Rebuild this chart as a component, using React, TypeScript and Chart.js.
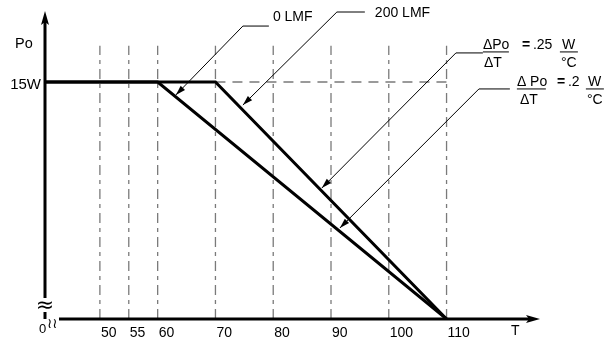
import React, { useEffect, useRef } from "react";
import { Chart, registerables } from "chart.js";

Chart.register(...registerables);

// ---- data ----
const tempTicks = [50, 55, 60, 70, 80, 90, 100, 110];
const lmf0Temp = [40.5, 60, 110];
const lmf0Power = [15, 15, 0];
const lmf200Temp = [40.5, 70, 110];
const lmf200Power = [15, 15, 0];
const ratedPowerW = 15;
const ratedDashTemp = [70, 110];
const gridTopPower = 17.3;

const X_MIN = 40.5;
const X_MAX = 126;
const Y_MIN = 0;
const Y_MAX = 19.43;

// leader lines (data coordinates): [text end, elbow, arrow tip]
const leader0 = [[79.25, 18.54], [74.75, 18.54], [63.15, 14.18]];
const leader200 = [[95.86, 19.43], [91.02, 19.43], [74.75, 13.54]];
const leader25 = [[116.29, 16.84], [111.62, 16.84], [88.42, 8.29]];
const leader20 = [[120.96, 14.56], [115.6, 14.56], [91.54, 5.76]];

const FONT = '"Liberation Sans", Arial, Helvetica, sans-serif';

const zip = (xs: number[], ys: number[]) => xs.map((x, i) => ({ x, y: ys[i] }));

const overlay = {
  id: "overlay",
  afterDraw(chart: any) {
    const ctx: CanvasRenderingContext2D = chart.ctx;
    const xs = chart.scales.x;
    const ys = chart.scales.y;
    const px = (v: number) => xs.getPixelForValue(v);
    const py = (v: number) => ys.getPixelForValue(v);
    const x0 = px(X_MIN);
    const y0 = py(0);
    ctx.save();
    ctx.fillStyle = "#000";
    ctx.strokeStyle = "#000";
    ctx.lineCap = "butt";

    // y axis
    const yTop = py(Y_MAX) - 1;
    ctx.lineWidth = 3;
    ctx.beginPath();
    ctx.moveTo(x0, yTop + 10);
    ctx.lineTo(x0, y0 - 21);
    ctx.stroke();
    ctx.beginPath();
    ctx.moveTo(x0, yTop);
    ctx.lineTo(x0 - 4, yTop + 14);
    ctx.lineTo(x0, yTop + 11);
    ctx.lineTo(x0 + 4, yTop + 14);
    ctx.closePath();
    ctx.fill();
    // short segment after break
    ctx.beginPath();
    ctx.moveTo(x0, y0 - 7);
    ctx.lineTo(x0, y0);
    ctx.stroke();

    // x axis
    const xEnd = px(X_MAX) + 1;
    ctx.beginPath();
    ctx.moveTo(x0 + 14, y0);
    ctx.lineTo(xEnd - 9, y0);
    ctx.stroke();
    ctx.beginPath();
    ctx.moveTo(xEnd, y0);
    ctx.lineTo(xEnd - 14, y0 - 4);
    ctx.lineTo(xEnd - 11, y0);
    ctx.lineTo(xEnd - 14, y0 + 4);
    ctx.closePath();
    ctx.fill();

    // break marks
    ctx.textBaseline = "middle";
    ctx.textAlign = "center";
    ctx.font = `22px "DejaVu Sans", ${FONT}`;
    ctx.fillText("\u2248", x0, y0 - 13);
    ctx.textBaseline = "alphabetic";
    ctx.textAlign = "left";
    ctx.font = `13px ${FONT}`;
    ctx.fillText("0", x0 - 6, y0 + 14);
    ctx.font = `14px "DejaVu Sans", ${FONT}`;
    ctx.fillText("\u2240\u2240", x0 + 2, y0 + 9);

    // tick labels
    ctx.font = `14px ${FONT}`;
    ctx.textAlign = "left";
    for (const t of tempTicks) {
      ctx.fillText(String(t), px(t) + 1, y0 + 18);
    }
    ctx.fillText("T", px(X_MAX) - 28, y0 + 16);

    // y labels
    ctx.font = `14.5px ${FONT}`;
    ctx.fillText("Po", 15, 48);
    ctx.textAlign = "right";
    ctx.font = `15px ${FONT}`;
    ctx.fillText("15W", x0 - 4, py(ratedPowerW) + 7);

    // leaders
    const drawLeader = (pts: number[][]) => {
      const p = pts.map(([a, b]) => [px(a), py(b)]);
      ctx.lineWidth = 1;
      ctx.beginPath();
      ctx.moveTo(p[0][0], p[0][1]);
      for (let i = 1; i < p.length; i++) ctx.lineTo(p[i][0], p[i][1]);
      ctx.stroke();
      const [tx, ty] = p[p.length - 1];
      const [sx, sy] = p[p.length - 2];
      const ang = Math.atan2(ty - sy, tx - sx);
      const L = 10;
      const W = 3;
      ctx.beginPath();
      ctx.moveTo(tx, ty);
      ctx.lineTo(tx - L * Math.cos(ang) + W * Math.sin(ang), ty - L * Math.sin(ang) - W * Math.cos(ang));
      ctx.lineTo(tx - L * Math.cos(ang) - W * Math.sin(ang), ty - L * Math.sin(ang) + W * Math.cos(ang));
      ctx.closePath();
      ctx.fill();
    };
    drawLeader(leader0);
    drawLeader(leader200);
    drawLeader(leader25);
    drawLeader(leader20);

    ctx.textAlign = "left";
    ctx.font = `14px ${FONT}`;
    ctx.fillText("0 LMF", px(leader0[0][0]) + 4, py(leader0[0][1]) - 5);
    ctx.fillText("200 LMF", px(leader200[0][0]) + 10, py(leader200[0][1]) + 5);

    const drawFraction = (
      ax: number, ay: number, num: string, den: string, numW: number, denDx: number,
      val: string, valDx: number, unitDx: number, dy: number
    ) => {
      ctx.font = `14px ${FONT}`;
      ctx.fillText(num, ax, ay + dy - 3);
      ctx.fillText(den, ax + denDx, ay + dy + 15);
      ctx.lineWidth = 1;
      ctx.beginPath();
      ctx.moveTo(ax, ay + dy);
      ctx.lineTo(ax + numW, ay + dy);
      ctx.stroke();
      ctx.font = `bold 14px ${FONT}`;
      ctx.fillText("=", ax + valDx, ay + dy - 3);
      ctx.font = `14px ${FONT}`;
      ctx.fillText(val, ax + valDx + 11, ay + dy - 3);
      ctx.fillText("W", ax + unitDx + 1, ay + dy - 3);
      ctx.beginPath();
      ctx.moveTo(ax + unitDx - 1, ay + dy);
      ctx.lineTo(ax + unitDx + 17, ay + dy);
      ctx.stroke();
      ctx.fillText("\u00B0C", ax + unitDx, ay + dy + 15);
    };
    drawFraction(px(leader25[0][0]), py(leader25[0][1]), "\u0394Po", "\u0394T", 26, 1, ".25", 39, 78, -1);
    drawFraction(px(leader20[0][0]) + 7, py(leader20[0][1]), "\u0394 Po", "\u0394T", 29, 3, ".2", 40, 70, 0);

    ctx.restore();
  },
};

export default function App() {
  const ref = useRef<HTMLCanvasElement | null>(null);
  useEffect(() => {
    if (!ref.current) return;
    const gridColor = "#7a7a7a";
    const gridSets = tempTicks.map((t) => ({
      data: [{ x: t, y: 0 }, { x: t, y: gridTopPower }],
      borderColor: gridColor,
      borderWidth: 1.3,
      borderDash: [10, 5, 4, 5],
      pointRadius: 0,
      showLine: true,
    }));
    const chart = new Chart(ref.current, {
      type: "scatter",
      data: {
        datasets: [
          {
            data: zip(lmf200Temp, lmf200Power),
            borderColor: "#000",
            borderWidth: 3,
            pointRadius: 0,
            showLine: true,
          },
          {
            data: zip(lmf0Temp, lmf0Power),
            borderColor: "#000",
            borderWidth: 3,
            pointRadius: 0,
            showLine: true,
          },
          {
            data: ratedDashTemp.map((x) => ({ x, y: ratedPowerW })),
            borderColor: gridColor,
            borderWidth: 1.5,
            borderDash: [10, 7],
            pointRadius: 0,
            showLine: true,
          },
          ...gridSets,
        ] as any,
      },
      options: {
        responsive: false,
        devicePixelRatio: 1,
        animation: false,
        layout: { autoPadding: false, padding: { left: 45, right: 69, top: 12, bottom: 20 } },
        scales: {
          x: { type: "linear", min: X_MIN, max: X_MAX, display: false },
          y: { type: "linear", min: Y_MIN, max: Y_MAX, display: false },
        },
        plugins: { legend: { display: false }, tooltip: { enabled: false } },
        events: [],
      } as any,
      plugins: [overlay],
    });
    return () => chart.destroy();
  }, []);
  return (
    <div style={{ position: "fixed", left: 0, top: 0, width: 608, height: 339, background: "#fff" }}>
      <canvas ref={ref} width={608} height={339} style={{ display: "block" }} />
    </div>
  );
}
